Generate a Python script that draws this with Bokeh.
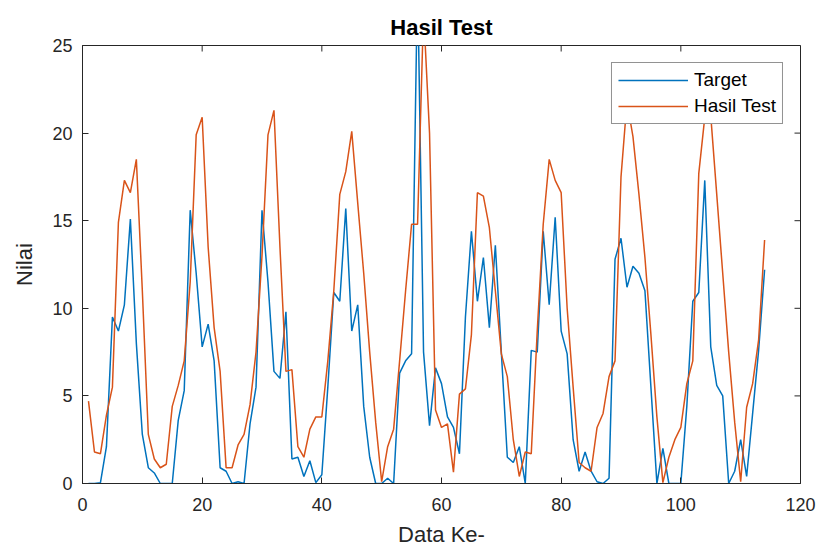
from bokeh.plotting import figure
from bokeh.models import Range1d, FixedTicker, Legend, LegendItem
from bokeh.embed import file_html
from bokeh.resources import INLINE

idx = list(range(1, 115))

target = [0, 0, 0.05, 2.1, 9.5, 8.7, 10.2, 15.1, 8.0, 2.8,
          0.9, 0.6, 0, 0, 0, 3.6, 5.3, 15.6, 12.0, 7.8,
          9.1, 7.0, 0.9, 0.7, 0, 0.1, 0, 3.4, 5.5, 15.6,
          11.5, 6.4, 6.0, 9.8, 1.4, 1.5, 0.4, 1.3, 0.05, 0.5,
          5.5, 10.9, 10.4, 15.7, 8.7, 10.2, 4.4, 1.5, 0, 0,
          0.3, 0, 6.3, 7.0, 7.4, 29.0, 7.5, 3.3, 6.6, 5.7,
          3.8, 3.2, 1.7, 9.5, 14.4, 10.4, 12.9, 8.9, 13.6, 7.5,
          1.5, 1.2, 2.1, 0, 7.6, 7.5, 14.4, 10.2, 15.2, 8.7,
          7.4, 2.5, 0.7, 1.8, 0.7, 0.1, 0, 0.3, 12.8, 14.0,
          11.2, 12.4, 12.0, 11.0, 5.5, 0, 2.0, 0, 0, 0,
          4.4, 10.4, 10.9, 17.3, 7.8, 5.6, 5.0, 0, 0.7, 2.5,
          0.4, 4.0, 7.6, 12.2]

hasil = [4.7, 1.8, 1.7, 3.9, 5.5, 14.9, 17.3, 16.6, 18.5, 11.0,
         2.8, 1.4, 0.9, 1.1, 4.4, 5.6, 7.0, 11.5, 19.9, 20.9,
         13.5, 8.9, 6.4, 0.9, 0.9, 2.2, 2.8, 4.5, 7.5, 13.0,
         19.9, 21.3, 13.5, 6.4, 6.5, 2.1, 1.5, 3.1, 3.8, 3.8,
         7.0, 11.0, 16.5, 17.8, 20.1, 16.0, 12.0, 7.5, 3.5, 0.1,
         2.1, 3.1, 7.0, 11.0, 14.8, 14.8, 27.0, 20.0, 4.2, 3.2,
         3.4, 0.65, 5.1, 5.4, 8.5, 16.6, 16.4, 14.6, 11.0, 7.4,
         6.1, 2.5, 0.4, 1.8, 1.7, 8.7, 14.8, 18.5, 17.3, 16.6,
         10.0, 5.5, 1.2, 0.9, 0.7, 3.2, 4.0, 6.1, 7.0, 17.5,
         21.8, 19.8, 16.5, 12.9, 8.5, 3.8, 0.05, 1.5, 2.5, 3.2,
         5.7, 7.0, 17.7, 20.9, 21.0, 16.5, 12.0, 7.5, 3.5, 0.1,
         4.35, 5.7, 8.2, 13.9]

x_ticks = [0, 20, 40, 60, 80, 100, 120]
y_ticks = [0, 5, 10, 15, 20, 25]

FONT = "Liberation Sans"
DARK = "#262626"
X0, X1, Y0, Y1 = 0, 120, 0, 25
FRAME_W, FRAME_H = 718, 438
TICK = 6

p = figure(width=821, height=549, output_backend="svg", toolbar_location=None,
           x_range=Range1d(X0, X1), y_range=Range1d(Y0, Y1),
           title="Hasil Test", x_axis_label="Data Ke-", y_axis_label="Nilai")
p.min_border_left = 82
p.min_border_right = 21
p.min_border_top = 45
p.min_border_bottom = 66
p.background_fill_color = "white"
p.border_fill_color = "white"
p.outline_line_color = DARK
p.outline_line_width = 1
p.grid.visible = False

p.title.align = "center"
p.title.text_font = FONT
p.title.text_font_size = "22px"
p.title.text_font_style = "bold"
p.title.text_color = "black"
p.title.standoff = 11

for ax, ticks in ((p.xaxis[0], x_ticks), (p.yaxis[0], y_ticks)):
    ax.ticker = FixedTicker(ticks=ticks)
    ax.major_tick_in = TICK
    ax.major_tick_out = 0
    ax.minor_tick_line_color = None
    ax.axis_line_color = DARK
    ax.major_tick_line_color = DARK
    ax.major_label_text_font = FONT
    ax.major_label_text_font_size = "18px"
    ax.major_label_text_color = DARK
    ax.axis_label_text_font = FONT
    ax.axis_label_text_font_size = "22px"
    ax.axis_label_text_font_style = "normal"
    ax.axis_label_text_color = DARK

p.xaxis.major_label_standoff = 14
p.xaxis.axis_label_standoff = 8
p.yaxis.major_label_standoff = 10
p.yaxis.axis_label_standoff = 12

# inward ticks on the top and right edges of the box
dx = TICK * (X1 - X0) / FRAME_W
dy = TICK * (Y1 - Y0) / FRAME_H
p.segment(x0=x_ticks, y0=[Y1] * len(x_ticks), x1=x_ticks, y1=[Y1 - dy] * len(x_ticks),
          line_color=DARK, line_width=1)
p.segment(x0=[X1] * len(y_ticks), y0=y_ticks, x1=[X1 - dx] * len(y_ticks), y1=y_ticks,
          line_color=DARK, line_width=1)

r1 = p.line(idx, target, line_color="#0072BD", line_width=1.5)
r2 = p.line(idx, hasil, line_color="#D95319", line_width=1.5)

legend = Legend(items=[LegendItem(label="Target", renderers=[r1]),
                       LegendItem(label="Hasil Test", renderers=[r2])],
                location="top_right")
legend.margin = 17
legend.padding = 6
legend.spacing = 4
legend.glyph_width = 70
legend.glyph_height = 22
legend.label_height = 22
legend.label_standoff = 6
legend.label_text_font = FONT
legend.label_text_font_size = "19px"
legend.label_text_color = "black"
legend.border_line_color = DARK
legend.border_line_width = 1
legend.background_fill_color = "white"
legend.background_fill_alpha = 1.0
p.add_layout(legend, "center")

open("out.html", "w").write(file_html(p, INLINE))
